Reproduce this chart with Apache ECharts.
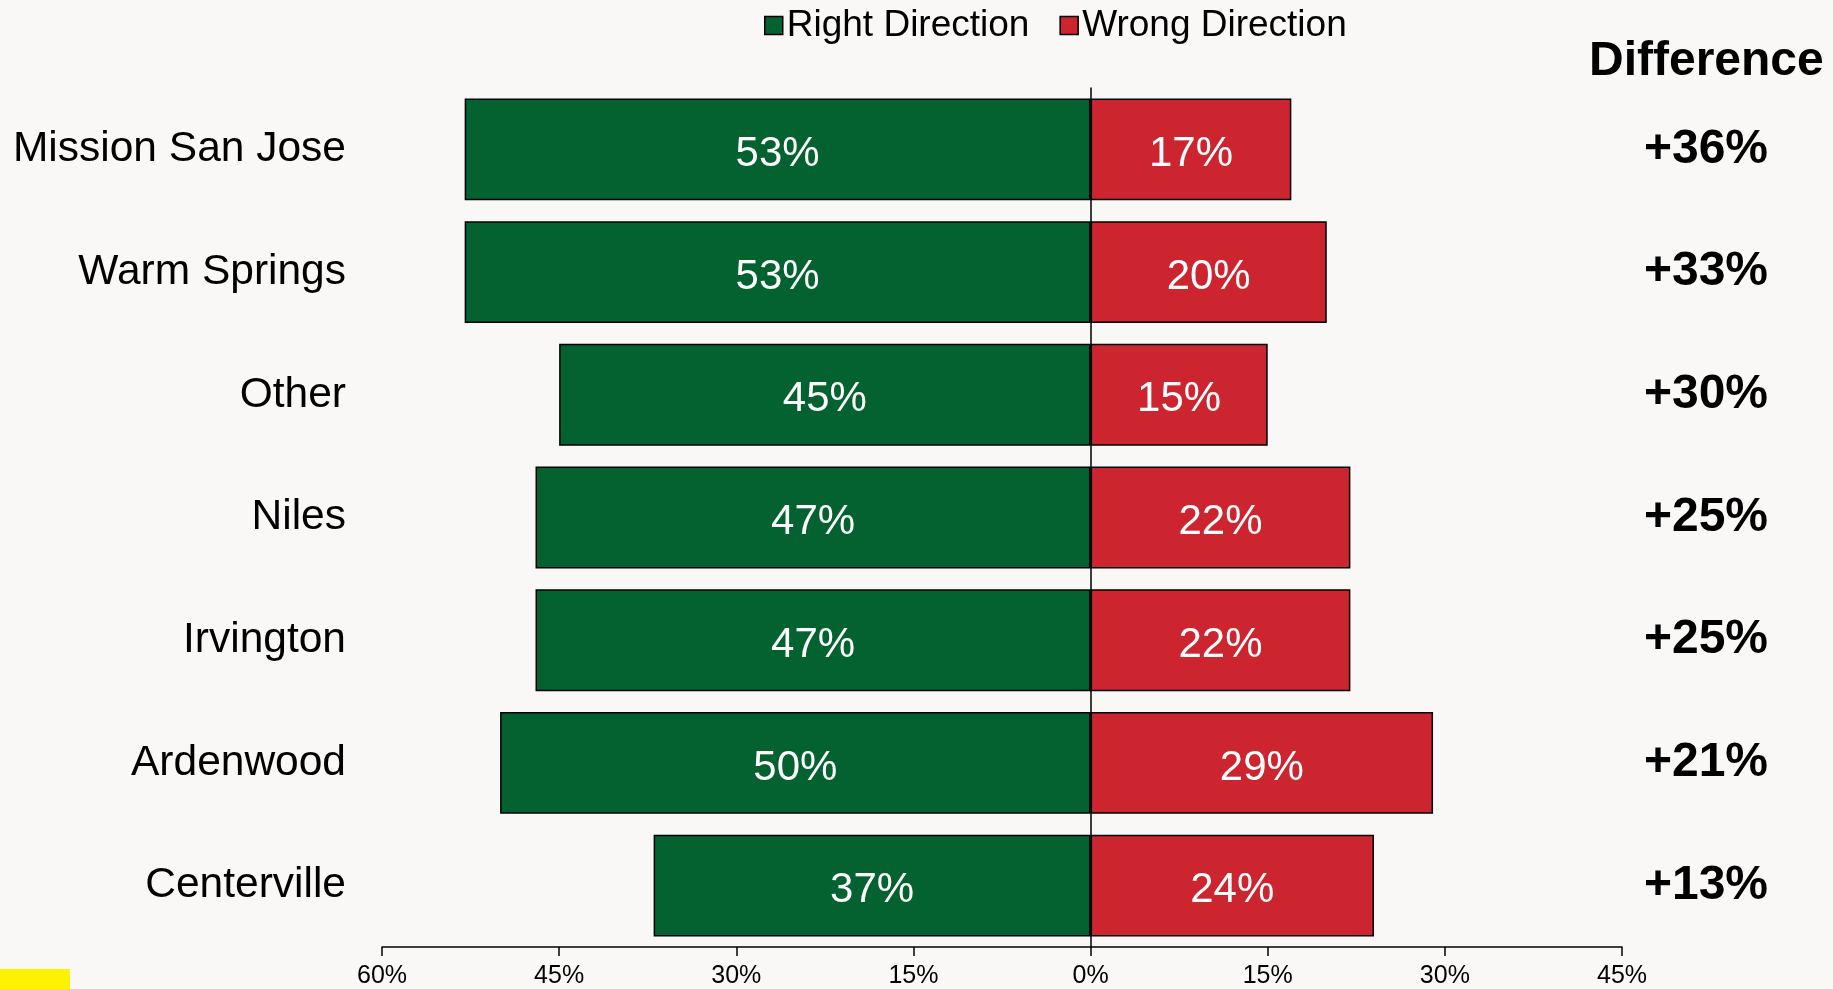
<!DOCTYPE html>
<html>
<head>
<meta charset="utf-8">
<script src="https://cdn.jsdelivr.net/npm/echarts@6/dist/echarts.min.js"></script>
<style>
html,body{margin:0;padding:0;background:#F9F8F6;}
#chart{width:1833px;height:989px;}
</style>
</head>
<body>
<div id="chart"></div>
<script>
const categories = ['Mission San Jose','Warm Springs','Other','Niles','Irvington','Ardenwood','Centerville'];
const rightDirection = [53,53,45,47,47,50,37];
const wrongDirection = [17,20,15,22,22,29,24];
const xTicks = {min:-60, max:45, interval:15};

const FONT = '"Liberation Sans", Arial, sans-serif';
const chart = echarts.init(document.getElementById('chart'));
const diffs = categories.map((c,i)=>rightDirection[i]-wrongDirection[i]);

chart.setOption({
  backgroundColor:'#F9F8F6',
  animation:false,
  legend:{
    top:2, left:759, itemWidth:18, itemHeight:18, itemGap:30, icon:'rect',
    textStyle:{fontFamily:FONT,fontSize:37,color:'#000',padding:[0,0,0,-1]},
    data:[{name:'Right Direction',itemStyle:{borderColor:'#000',borderWidth:1.5}},
          {name:'Wrong Direction',itemStyle:{borderColor:'#000',borderWidth:1.5}}]
  },
  grid:{left:382, right:211, top:88, bottom:42, containLabel:false},
  xAxis:{
    type:'value', min:xTicks.min, max:xTicks.max, interval:xTicks.interval,
    splitLine:{show:false},
    axisLine:{show:true,lineStyle:{color:'#000',width:1.5}},
    axisTick:{show:true,length:9,lineStyle:{color:'#000',width:1.5}},
    axisLabel:{fontFamily:FONT,fontSize:25,color:'#000',margin:17,
      formatter:v=>Math.abs(v)+'%'}
  },
  yAxis:[{
    type:'category', data:categories, inverse:true,
    axisLine:{show:true,onZero:true,lineStyle:{color:'#000',width:1.5}},
    axisTick:{show:false},
    axisLabel:{fontFamily:FONT,fontSize:42.5,color:'#000',margin:36,padding:[8,0,0,0]}
  },{
    type:'category', data:categories, inverse:true, position:'right',
    axisLine:{show:false}, axisTick:{show:false},
    axisLabel:{fontFamily:FONT,fontSize:48,fontWeight:'bold',color:'#000',
      align:'center', margin:84, padding:[0,0,8,0],
      formatter:(v,i)=>'+'+diffs[i]+'%'}
  }],
  graphic:[
    {type:'text',left:1589,top:38,style:{text:'Difference',font:'bold 48px '+FONT,fill:'#000'}},
    {type:'rect',shape:{x:0,y:969,width:70,height:20},style:{fill:'#FFF200'}}
  ],
  series:[{
    name:'Right Direction', type:'bar', stack:'t', yAxisIndex:0,
    barCategoryGap:'17%',
    data:rightDirection.map(v=>-v),
    itemStyle:{color:'#03622F',borderColor:'#000',borderWidth:1.5},
    label:{show:true,position:'inside',offset:[0,5],fontFamily:FONT,fontSize:42,color:'#fff',
      formatter:p=>Math.abs(p.value)+'%'}
  },{
    name:'Wrong Direction', type:'bar', stack:'t', yAxisIndex:0,
    barCategoryGap:'17%',
    data:wrongDirection,
    itemStyle:{color:'#CC2530',borderColor:'#000',borderWidth:1.5},
    label:{show:true,position:'inside',offset:[0,5],fontFamily:FONT,fontSize:42,color:'#fff',
      formatter:p=>p.value+'%'}
  }]
});
</script>
</body>
</html>
